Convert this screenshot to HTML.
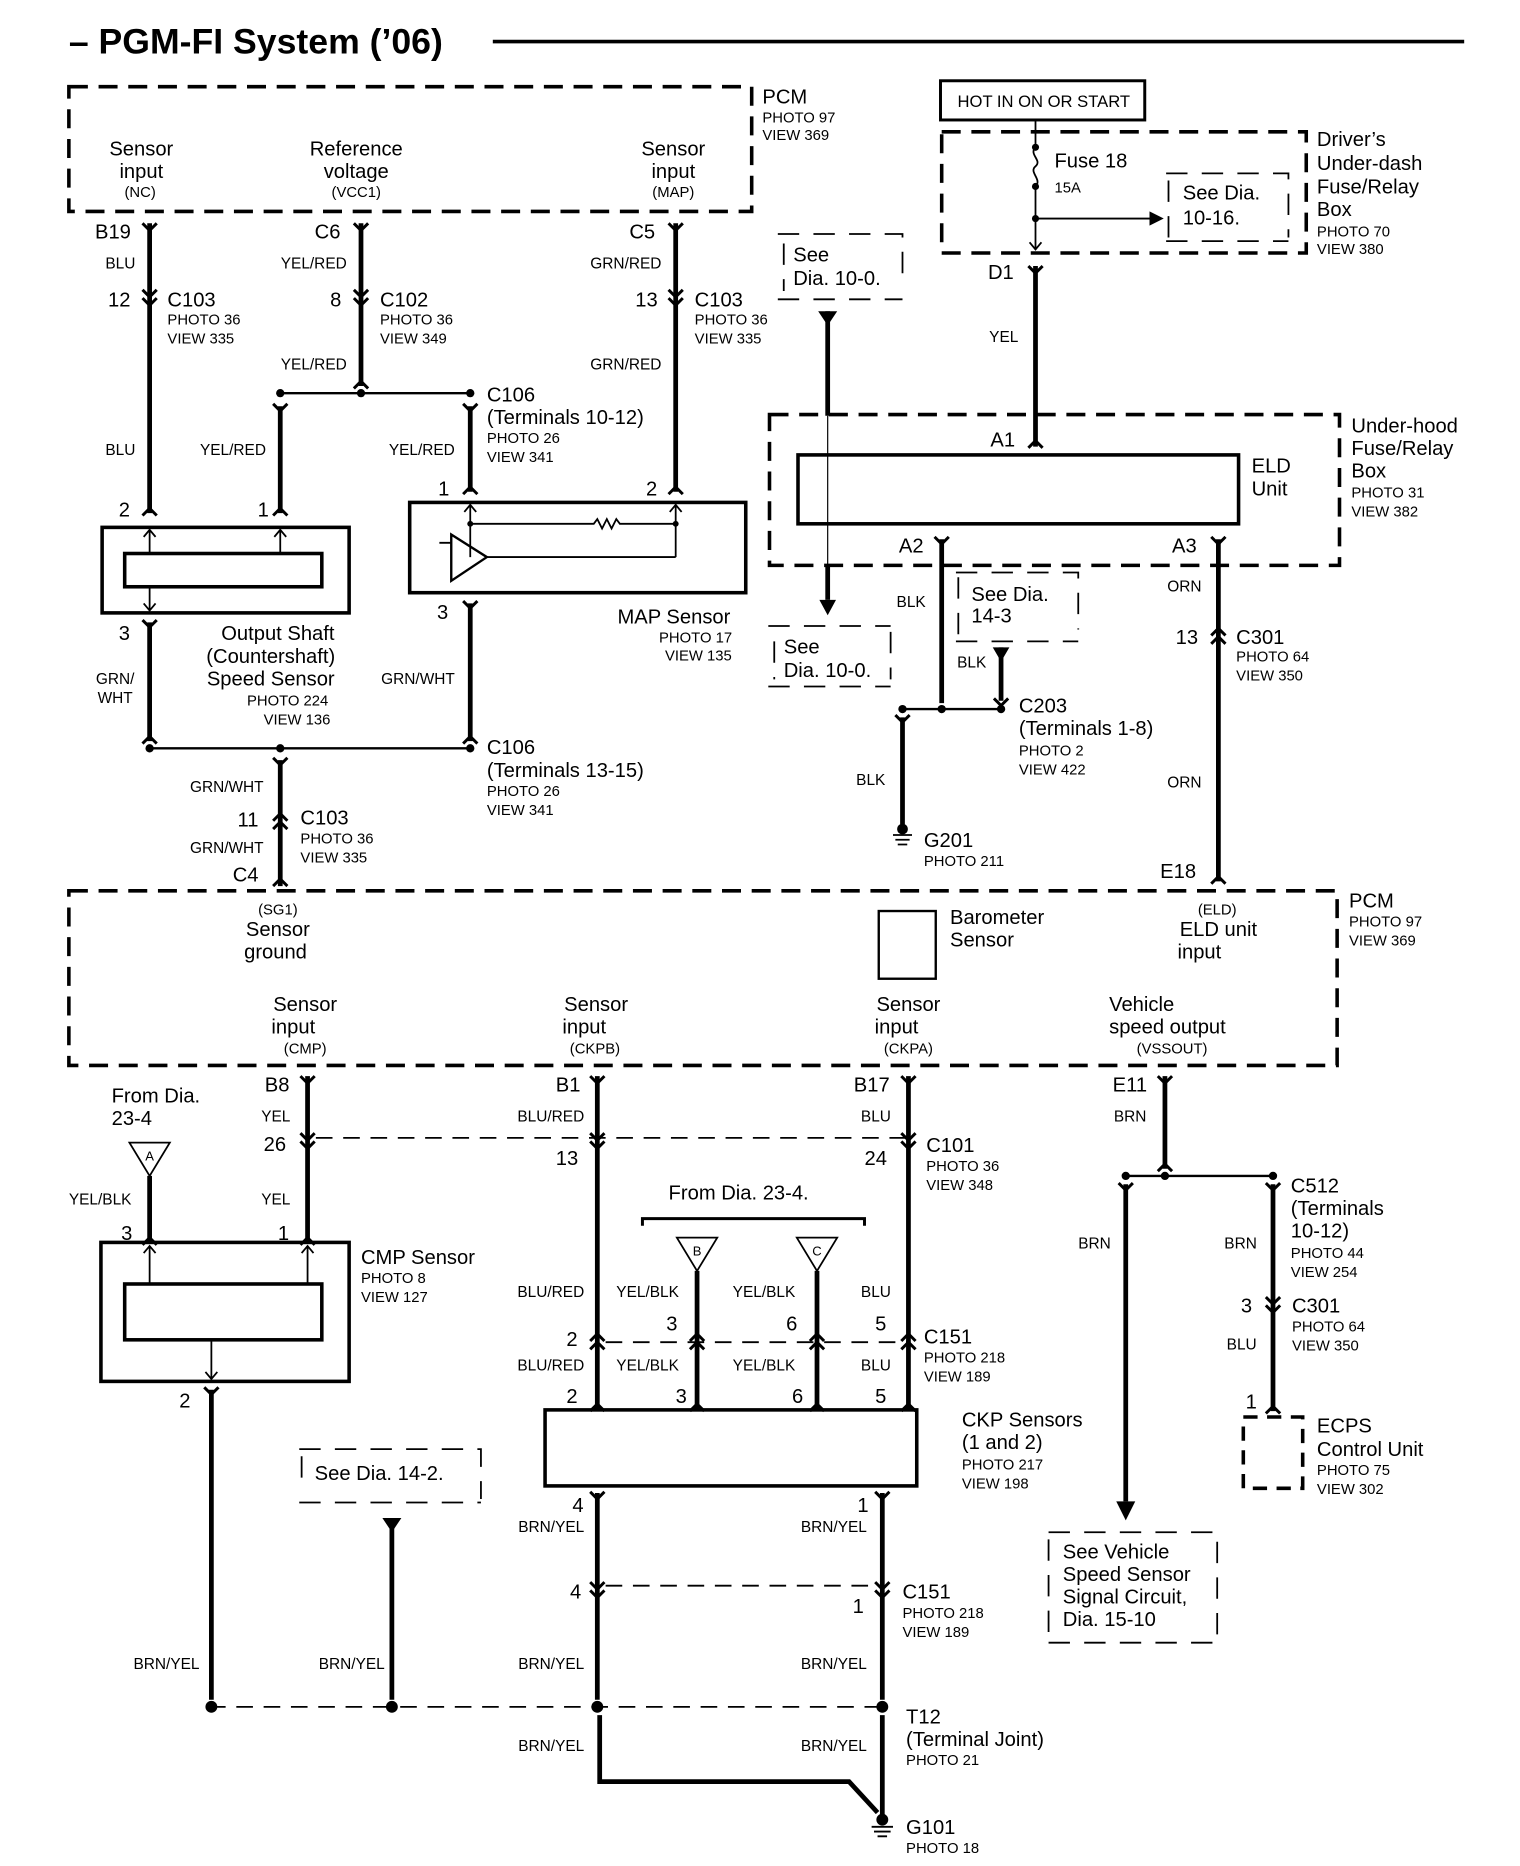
<!DOCTYPE html>
<html><head><meta charset="utf-8"><style>
html,body{margin:0;padding:0;background:#fff;}
svg{display:block;}
text{font-family:"Liberation Sans",Arial,sans-serif;fill:#000;}
.m{font-size:17px;}
.s{font-size:12.5px;}
.w{font-size:13px;}
.c{text-anchor:middle;}
.r{text-anchor:end;}
.wire{stroke:#000;stroke-width:4;fill:none;}
.thin{stroke:#000;stroke-width:1.5;fill:none;}
.box{stroke:#000;stroke-width:3;fill:none;}
.dash{stroke:#000;stroke-width:3;fill:none;stroke-dasharray:16,9;}
.dash2{stroke:#000;stroke-width:1.5;fill:none;stroke-dasharray:18,12;}
.sym{stroke:#000;stroke-width:2.5;fill:none;}
</style></head><body>
<svg width="1520" height="1866" viewBox="0 0 1280 1571" preserveAspectRatio="none" xmlns="http://www.w3.org/2000/svg">
<defs>
<path id="fk" class="sym" d="M-6,-6 L0,0 L6,-6"/>
<path id="il" class="sym" d="M-6,-8 L0,-2 L6,-8 M-6,-1 L0,5 L6,-1"/>
<path id="ilu" class="sym" d="M-6,8 L0,2 L6,8 M-6,1 L0,-5 L6,1"/>
<path id="up" class="sym" d="M-6,6 L0,0 L6,6"/>
<path id="tri" d="M-8,0 L8,0 L0,12 Z" fill="#000"/>
</defs>

<!-- Title -->
<text x="58" y="45" style="font-size:30px;font-weight:bold">– PGM-FI System (’06)</text>
<line x1="415" y1="35" x2="1233" y2="35" stroke="#000" stroke-width="3"/>

<!-- Top PCM -->
<rect class="dash" x="58" y="73" width="575" height="105"/>
<text class="m c" x="119" y="131">Sensor</text><text class="m c" x="119" y="150">input</text><text class="s c" x="118" y="166">(NC)</text>
<text class="m c" x="300" y="131">Reference</text><text class="m c" x="300" y="150">voltage</text><text class="s c" x="300" y="166">(VCC1)</text>
<text class="m c" x="567" y="131">Sensor</text><text class="m c" x="567" y="150">input</text><text class="s c" x="567" y="166">(MAP)</text>
<text class="m" x="642" y="87">PCM</text><text class="s" x="642" y="103">PHOTO 97</text><text class="s" x="642" y="118">VIEW 369</text>

<!-- B19 wire -->
<line class="wire" x1="126" y1="188" x2="126" y2="432"/>
<use href="#fk" x="126" y="194"/><use href="#il" x="126" y="252"/><use href="#up" x="126" y="428"/>
<text class="m" x="80" y="201">B19</text><text class="w r" x="114" y="226">BLU</text>
<text class="m" x="91" y="258">12</text><text class="m" x="141" y="258">C103</text><text class="s" x="141" y="273">PHOTO 36</text><text class="s" x="141" y="289">VIEW 335</text>
<text class="w r" x="114" y="383">BLU</text><text class="m" x="100" y="435">2</text>

<!-- C6 wire -->
<line class="wire" x1="304" y1="188" x2="304" y2="325"/>
<use href="#fk" x="304" y="194"/><use href="#il" x="304" y="252"/><use href="#up" x="304" y="321"/>
<text class="m" x="265" y="201">C6</text><text class="w r" x="292" y="226">YEL/RED</text>
<text class="m" x="278" y="258">8</text><text class="m" x="320" y="258">C102</text><text class="s" x="320" y="273">PHOTO 36</text><text class="s" x="320" y="289">VIEW 349</text>
<text class="w r" x="292" y="311">YEL/RED</text>
<line class="thin" x1="236" y1="331" x2="396" y2="331" style="stroke-width:2"/>
<circle cx="236" cy="331" r="3.5"/><circle cx="304" cy="331" r="3.5"/><circle cx="396" cy="331" r="3.5"/>
<line class="wire" x1="236" y1="342" x2="236" y2="432"/><use href="#fk" x="236" y="346"/><use href="#up" x="236" y="428"/>
<line class="wire" x1="396" y1="342" x2="396" y2="414"/><use href="#fk" x="396" y="346"/><use href="#up" x="396" y="410"/>
<text class="w r" x="224" y="383">YEL/RED</text><text class="w r" x="383" y="383">YEL/RED</text>
<text class="m" x="410" y="338">C106</text><text class="m" x="410" y="357">(Terminals 10-12)</text><text class="s" x="410" y="373">PHOTO 26</text><text class="s" x="410" y="389">VIEW 341</text>
<text class="m" x="217" y="435">1</text><text class="m" x="369" y="417">1</text>

<!-- C5 wire -->
<line class="wire" x1="569" y1="188" x2="569" y2="414"/>
<use href="#fk" x="569" y="194"/><use href="#il" x="569" y="252"/><use href="#up" x="569" y="410"/>
<text class="m" x="530" y="201">C5</text><text class="w r" x="557" y="226">GRN/RED</text>
<text class="m" x="535" y="258">13</text><text class="m" x="585" y="258">C103</text><text class="s" x="585" y="273">PHOTO 36</text><text class="s" x="585" y="289">VIEW 335</text>
<text class="w r" x="557" y="311">GRN/RED</text><text class="m" x="544" y="417">2</text>

<!-- Output shaft sensor -->
<rect class="box" x="86" y="444" width="208" height="72"/>
<rect class="box" x="105" y="466" width="166" height="28"/>
<path class="thin" d="M126,466 V446 M121,452 L126,446 L131,452 M236,466 V446 M231,452 L236,446 L241,452 M126,494 V514 M121,508 L126,514 L131,508"/>
<text class="m" x="100" y="539">3</text>
<line class="wire" x1="126" y1="524" x2="126" y2="624"/><use href="#fk" x="126" y="528"/><use href="#up" x="126" y="620"/>
<text class="w c" x="97" y="576">GRN/</text><text class="w c" x="97" y="592">WHT</text>
<text class="m c" x="234" y="539">Output Shaft</text><text class="m c" x="228" y="558">(Countershaft)</text><text class="m c" x="228" y="577">Speed Sensor</text>
<text class="s" x="208" y="594">PHOTO 224</text><text class="s" x="222" y="610">VIEW 136</text>

<!-- MAP sensor -->
<rect class="box" x="345" y="423" width="283" height="76"/>
<path class="thin" d="M396,425 V469 M391,431 L396,425 L401,431 M569,425 V469 M564,431 L569,425 L574,431 M396,441 H500 L503,437 L507,445 L511,437 L515,445 L519,437 L522,441 H569 M410,469 H569 M370,457 H380"/>
<circle cx="396" cy="441" r="2.5"/><circle cx="569" cy="441" r="2.5"/>
<path d="M380,450 L380,489 L410,469 Z" fill="none" stroke="#000" stroke-width="2"/>
<text class="m" x="368" y="521">3</text>
<line class="wire" x1="396" y1="508" x2="396" y2="624"/><use href="#fk" x="396" y="512"/><use href="#up" x="396" y="620"/>
<text class="w r" x="383" y="576">GRN/WHT</text>
<text class="m" x="520" y="525">MAP Sensor</text><text class="s" x="555" y="541">PHOTO 17</text><text class="s" x="560" y="556">VIEW 135</text>

<line class="thin" x1="126" y1="630" x2="396" y2="630" style="stroke-width:2"/>
<circle cx="126" cy="630" r="3.5"/><circle cx="236" cy="630" r="3.5"/><circle cx="396" cy="630" r="3.5"/>
<text class="m" x="410" y="635">C106</text><text class="m" x="410" y="654">(Terminals 13-15)</text><text class="s" x="410" y="670">PHOTO 26</text><text class="s" x="410" y="686">VIEW 341</text>
<line class="wire" x1="236" y1="640" x2="236" y2="746"/><use href="#fk" x="236" y="644"/><use href="#ilu" x="236" y="690"/><use href="#up" x="236" y="740"/>
<text class="w r" x="222" y="667">GRN/WHT</text><text class="m" x="200" y="696">11</text>
<text class="m" x="253" y="694">C103</text><text class="s" x="253" y="710">PHOTO 36</text><text class="s" x="253" y="726">VIEW 335</text>
<text class="w r" x="222" y="718">GRN/WHT</text><text class="m" x="196" y="742">C4</text>

<!-- See Dia 10-0 (top) -->
<path class="dash2" d="M655,197 H760 V240 M655,252 H760 M660,205 V245"/>
<text class="m" x="668" y="220">See</text><text class="m" x="668" y="240">Dia. 10-0.</text>
<path d="M689,262 L705,262 L697,274 Z" fill="#000"/>
<line class="wire" x1="697" y1="262" x2="697" y2="350"/>
<line class="thin" x1="697" y1="350" x2="697" y2="476" style="stroke-width:1"/>
<line class="wire" x1="697" y1="476" x2="697" y2="505"/>
<path d="M690,505 L704,505 L697,518 Z" fill="#000"/>
<path class="dash2" d="M647,527 H750 M647,578 H750 M750,532 V572 M652,540 V572"/>
<text class="m" x="660" y="550">See</text><text class="m" x="660" y="570">Dia. 10-0.</text>

<!-- HOT box & Driver's fuse box -->
<rect x="792" y="68" width="172" height="33" fill="none" stroke="#000" stroke-width="2.5"/>
<text class="c" x="879" y="90" style="font-size:14px">HOT IN ON OR START</text>
<rect class="dash" x="793" y="111" width="307" height="102"/>
<path class="thin" d="M872,101 V124 M872,157 V210 M867,204 L872,210 L877,204 M872,184 H972"/>
<path d="M872,124 C866,130 878,135 872,140 C866,145 878,151 872,157" fill="none" stroke="#000" stroke-width="1.5"/>
<circle cx="872" cy="124" r="3"/><circle cx="872" cy="157" r="3"/><circle cx="872" cy="184" r="3"/>
<path d="M968,178 L980,184 L968,190 Z" fill="#000"/>
<path class="dash2" d="M982,146 H1085 V200 M982,203 H1085 M984,152 V200"/>
<text class="m" x="888" y="141">Fuse 18</text><text class="s" x="888" y="162">15A</text>
<text class="m" x="996" y="168">See Dia.</text><text class="m" x="996" y="189">10-16.</text>
<text class="m" x="1109" y="123">Driver’s</text><text class="m" x="1109" y="143">Under-dash</text><text class="m" x="1109" y="163">Fuse/Relay</text><text class="m" x="1109" y="182">Box</text>
<text class="s" x="1109" y="199">PHOTO 70</text><text class="s" x="1109" y="214">VIEW 380</text>

<line class="wire" x1="872" y1="224" x2="872" y2="376"/><use href="#fk" x="872" y="230"/><use href="#up" x="872" y="371"/>
<text class="m" x="832" y="235">D1</text><text class="w" x="833" y="288">YEL</text>
<text class="m" x="834" y="376">A1</text>

<!-- Under-hood -->
<rect class="dash" x="648" y="349" width="480" height="127"/>
<rect class="box" x="672" y="383" width="371" height="58"/>
<text class="m" x="1054" y="398">ELD</text><text class="m" x="1054" y="417">Unit</text>
<text class="m" x="1138" y="364">Under-hood</text><text class="m" x="1138" y="383">Fuse/Relay</text><text class="m" x="1138" y="402">Box</text>
<text class="s" x="1138" y="419">PHOTO 31</text><text class="s" x="1138" y="435">VIEW 382</text>

<line class="wire" x1="793" y1="454" x2="793" y2="592"/><use href="#fk" x="793" y="458"/>
<text class="m" x="757" y="465">A2</text><text class="w" x="755" y="511">BLK</text>
<line class="wire" x1="1026" y1="454" x2="1026" y2="742"/><use href="#fk" x="1026" y="458"/><use href="#ilu" x="1026" y="534"/><use href="#up" x="1026" y="738"/>
<text class="m" x="987" y="465">A3</text><text class="w" x="983" y="498">ORN</text>
<text class="m" x="990" y="542">13</text><text class="m" x="1041" y="542">C301</text><text class="s" x="1041" y="557">PHOTO 64</text><text class="s" x="1041" y="573">VIEW 350</text>
<text class="w" x="983" y="663">ORN</text><text class="m" x="977" y="739">E18</text>

<path class="dash2" d="M805,482 H908 V530 M805,540 H908 M807,486 V535"/>
<text class="m" x="818" y="506">See Dia.</text><text class="m" x="818" y="524">14-3</text>
<path d="M836,545 L850,545 L843,557 Z" fill="#000"/>
<line class="wire" x1="843" y1="545" x2="843" y2="590"/><use href="#fk" x="843" y="594"/>
<text class="w" x="806" y="562">BLK</text>
<line class="thin" x1="760" y1="597" x2="843" y2="597" style="stroke-width:2"/>
<circle cx="793" cy="597" r="3.5"/><circle cx="843" cy="597" r="3.5"/><circle cx="760" cy="597" r="3.5"/>
<line class="wire" x1="760" y1="604" x2="760" y2="694"/><use href="#fk" x="760" y="608"/>
<circle cx="760" cy="698" r="4.5"/>
<path class="thin" d="M752,703 H768 M754,707 H766 M756,711 H764"/>
<text class="w" x="721" y="661">BLK</text>
<text class="m" x="858" y="600">C203</text><text class="m" x="858" y="619">(Terminals 1-8)</text><text class="s" x="858" y="636">PHOTO 2</text><text class="s" x="858" y="652">VIEW 422</text>
<text class="m" x="778" y="713">G201</text><text class="s" x="778" y="729">PHOTO 211</text>

<!-- Bottom PCM -->
<rect class="dash" x="58" y="750" width="1068" height="147"/>
<text class="s c" x="234" y="770">(SG1)</text><text class="m c" x="234" y="788">Sensor</text><text class="m c" x="232" y="807">ground</text>
<rect x="740" y="767" width="48" height="57" fill="none" stroke="#000" stroke-width="2"/>
<text class="m" x="800" y="778">Barometer</text><text class="m" x="800" y="797">Sensor</text>
<text class="s c" x="1025" y="770">(ELD)</text><text class="m c" x="1026" y="788">ELD unit</text><text class="m c" x="1010" y="807">input</text>
<text class="m" x="1136" y="764">PCM</text><text class="s" x="1136" y="780">PHOTO 97</text><text class="s" x="1136" y="796">VIEW 369</text>
<text class="m c" x="257" y="851">Sensor</text><text class="m c" x="247" y="870">input</text><text class="s c" x="257" y="887">(CMP)</text>
<text class="m c" x="502" y="851">Sensor</text><text class="m c" x="492" y="870">input</text><text class="s c" x="501" y="887">(CKPB)</text>
<text class="m c" x="765" y="851">Sensor</text><text class="m c" x="755" y="870">input</text><text class="s c" x="765" y="887">(CKPA)</text>
<text class="m" x="934" y="851">Vehicle</text><text class="m" x="934" y="870">speed output</text><text class="s c" x="987" y="887">(VSSOUT)</text>

<!-- B8 -->
<line class="wire" x1="259" y1="906" x2="259" y2="1046"/><use href="#fk" x="259" y="912"/><use href="#il" x="259" y="962"/><use href="#up" x="259" y="1042"/>
<text class="m" x="223" y="919">B8</text><text class="w" x="220" y="944">YEL</text><text class="m" x="222" y="969">26</text><text class="w" x="220" y="1014">YEL</text><text class="m" x="234" y="1044">1</text>
<path class="dash2" d="M266,958 H765" style="stroke-dasharray:14,9"/>
<!-- B1 -->
<line class="wire" x1="503" y1="906" x2="503" y2="1186"/><use href="#fk" x="503" y="912"/><use href="#il" x="503" y="962"/><use href="#ilu" x="503" y="1128"/><use href="#up" x="503" y="1182"/>
<text class="m" x="468" y="919">B1</text><text class="w r" x="492" y="944">BLU/RED</text><text class="m" x="468" y="981">13</text>
<text class="w r" x="492" y="1092">BLU/RED</text><text class="m" x="477" y="1133">2</text><text class="w r" x="492" y="1154">BLU/RED</text><text class="m" x="477" y="1181">2</text>
<!-- B17 -->
<line class="wire" x1="765" y1="906" x2="765" y2="1186"/><use href="#fk" x="765" y="912"/><use href="#il" x="765" y="962"/><use href="#ilu" x="765" y="1128"/><use href="#up" x="765" y="1182"/>
<text class="m" x="719" y="919">B17</text><text class="w" x="725" y="944">BLU</text><text class="m" x="728" y="981">24</text>
<text class="m" x="780" y="970">C101</text><text class="s" x="780" y="986">PHOTO 36</text><text class="s" x="780" y="1002">VIEW 348</text>
<text class="w" x="725" y="1092">BLU</text><text class="m" x="737" y="1120">5</text><text class="w" x="725" y="1154">BLU</text><text class="m" x="737" y="1181">5</text>
<text class="m" x="778" y="1131">C151</text><text class="s" x="778" y="1147">PHOTO 218</text><text class="s" x="778" y="1163">VIEW 189</text>
<path class="dash2" d="M510,1130 H765" style="stroke-dasharray:14,9"/>
<!-- B, C -->
<text class="m" x="563" y="1010">From Dia. 23-4.</text>
<path d="M541,1032 V1026 H728 V1032" fill="none" stroke="#000" stroke-width="2.5"/>
<path d="M570,1042 L604,1042 L587,1070 Z" fill="none" stroke="#000" stroke-width="1.5"/><text class="c" x="587" y="1057" style="font-size:11px">B</text>
<path d="M671,1042 L705,1042 L688,1070 Z" fill="none" stroke="#000" stroke-width="1.5"/><text class="c" x="688" y="1057" style="font-size:11px">C</text>
<line class="wire" x1="587" y1="1070" x2="587" y2="1186"/><use href="#ilu" x="587" y="1128"/><use href="#up" x="587" y="1182"/>
<line class="wire" x1="688" y1="1070" x2="688" y2="1186"/><use href="#ilu" x="688" y="1128"/><use href="#up" x="688" y="1182"/>
<text class="w" x="519" y="1092">YEL/BLK</text><text class="w" x="617" y="1092">YEL/BLK</text>
<text class="m" x="561" y="1120">3</text><text class="m" x="662" y="1120">6</text>
<text class="w" x="519" y="1154">YEL/BLK</text><text class="w" x="617" y="1154">YEL/BLK</text>
<text class="m" x="569" y="1181">3</text><text class="m" x="667" y="1181">6</text>
<!-- CKP box -->
<rect class="box" x="459" y="1187" width="313" height="64"/>
<text class="m" x="810" y="1201">CKP Sensors</text><text class="m" x="810" y="1220">(1 and 2)</text><text class="s" x="810" y="1237">PHOTO 217</text><text class="s" x="810" y="1253">VIEW 198</text>
<line class="wire" x1="503" y1="1257" x2="503" y2="1431"/><use href="#fk" x="503" y="1262"/><use href="#il" x="503" y="1340"/>
<line class="wire" x1="743" y1="1257" x2="743" y2="1431"/><use href="#fk" x="743" y="1262"/><use href="#il" x="743" y="1340"/>
<text class="m" x="482" y="1273">4</text><text class="m" x="722" y="1273">1</text>
<text class="w r" x="492" y="1290">BRN/YEL</text><text class="w r" x="730" y="1290">BRN/YEL</text>
<text class="m" x="480" y="1346">4</text><text class="m" x="718" y="1358">1</text>
<path class="dash2" d="M510,1335 H740" style="stroke-dasharray:14,9"/>
<text class="m" x="760" y="1346">C151</text><text class="s" x="760" y="1362">PHOTO 218</text><text class="s" x="760" y="1378">VIEW 189</text>
<text class="w r" x="492" y="1405">BRN/YEL</text><text class="w r" x="730" y="1405">BRN/YEL</text>

<!-- CMP -->
<text class="m" x="94" y="928">From Dia.</text><text class="m" x="94" y="947">23-4</text>
<path d="M109,962 L143,962 L126,990 Z" fill="none" stroke="#000" stroke-width="1.5"/><text class="c" x="126" y="977" style="font-size:11px">A</text>
<line class="wire" x1="126" y1="990" x2="126" y2="1046"/><use href="#up" x="126" y="1042"/>
<text class="w" x="58" y="1014">YEL/BLK</text><text class="m" x="102" y="1044">3</text>
<rect class="box" x="85" y="1046" width="209" height="117"/>
<rect class="box" x="105" y="1081" width="166" height="47"/>
<path class="thin" d="M126,1081 V1049 M121,1055 L126,1049 L131,1055 M259,1081 V1049 M254,1055 L259,1049 L264,1055 M178,1128 V1161 M173,1155 L178,1161 L183,1155"/>
<text class="m" x="304" y="1064">CMP Sensor</text><text class="s" x="304" y="1080">PHOTO 8</text><text class="s" x="304" y="1096">VIEW 127</text>
<text class="m" x="151" y="1185">2</text>
<line class="wire" x1="178" y1="1170" x2="178" y2="1431"/><use href="#fk" x="178" y="1174"/>
<text class="w r" x="168" y="1405">BRN/YEL</text>

<!-- See Dia 14-2 -->
<path class="dash2" d="M252,1220 H405 V1262 M252,1265 H405 M254,1226 V1255"/>
<text class="m" x="265" y="1246">See Dia. 14-2.</text>
<path d="M322,1278 L338,1278 L330,1290 Z" fill="#000"/>
<line class="wire" x1="330" y1="1278" x2="330" y2="1431"/>
<text class="w r" x="324" y="1405">BRN/YEL</text>

<!-- T12 -->
<path class="dash2" d="M176,1437 H743" style="stroke-dasharray:14,9"/>
<circle cx="178" cy="1437" r="5"/><circle cx="330" cy="1437" r="5"/><circle cx="503" cy="1437" r="5"/><circle cx="743" cy="1437" r="5"/>
<text class="m" x="763" y="1451">T12</text><text class="m" x="763" y="1470">(Terminal Joint)</text><text class="s" x="763" y="1486">PHOTO 21</text>
<text class="w r" x="492" y="1474">BRN/YEL</text><text class="w r" x="730" y="1474">BRN/YEL</text>
<path class="wire" d="M505,1444 V1500 H715 L739,1526"/>
<line class="wire" x1="743" y1="1444" x2="743" y2="1528"/>
<circle cx="743" cy="1532" r="5"/>
<path class="thin" d="M734,1538 H752 M736,1542 H750 M739,1546 H747"/>
<text class="m" x="763" y="1544">G101</text><text class="s" x="763" y="1560">PHOTO 18</text>

<!-- E11 vehicle speed -->
<line class="wire" x1="981" y1="906" x2="981" y2="984"/><use href="#fk" x="981" y="912"/><use href="#up" x="981" y="980"/>
<text class="m" x="937" y="919">E11</text><text class="w" x="938" y="944">BRN</text>
<line class="thin" x1="948" y1="990" x2="1072" y2="990" style="stroke-width:2"/>
<circle cx="948" cy="990" r="3.5"/><circle cx="981" cy="990" r="3.5"/><circle cx="1072" cy="990" r="3.5"/>
<line class="wire" x1="948" y1="997" x2="948" y2="1264"/><use href="#fk" x="948" y="1002"/>
<path d="M940,1264 L956,1264 L948,1280 Z" fill="#000"/>
<text class="w" x="908" y="1051">BRN</text>
<line class="wire" x1="1072" y1="997" x2="1072" y2="1188"/><use href="#fk" x="1072" y="1002"/><use href="#il" x="1072" y="1100"/><use href="#up" x="1072" y="1184"/>
<text class="w" x="1031" y="1051">BRN</text>
<text class="m" x="1087" y="1004">C512</text><text class="m" x="1087" y="1023">(Terminals</text><text class="m" x="1087" y="1042">10-12)</text><text class="s" x="1087" y="1059">PHOTO 44</text><text class="s" x="1087" y="1075">VIEW 254</text>
<text class="m" x="1045" y="1105">3</text><text class="m" x="1088" y="1105">C301</text><text class="s" x="1088" y="1121">PHOTO 64</text><text class="s" x="1088" y="1137">VIEW 350</text>
<text class="w" x="1033" y="1136">BLU</text><text class="m" x="1049" y="1186">1</text>
<rect class="dash" x="1047" y="1193" width="50" height="60" style="stroke-dasharray:12,8"/>
<text class="m" x="1109" y="1206">ECPS</text><text class="m" x="1109" y="1226">Control Unit</text><text class="s" x="1109" y="1242">PHOTO 75</text><text class="s" x="1109" y="1258">VIEW 302</text>
<path class="dash2" d="M883,1290 H1025 V1383 M883,1383 H1025 M883,1296 V1378"/>
<text class="m" x="895" y="1312">See Vehicle</text><text class="m" x="895" y="1331">Speed Sensor</text><text class="m" x="895" y="1350">Signal Circuit,</text><text class="m" x="895" y="1369">Dia. 15-10</text>
</svg>
</body></html>
